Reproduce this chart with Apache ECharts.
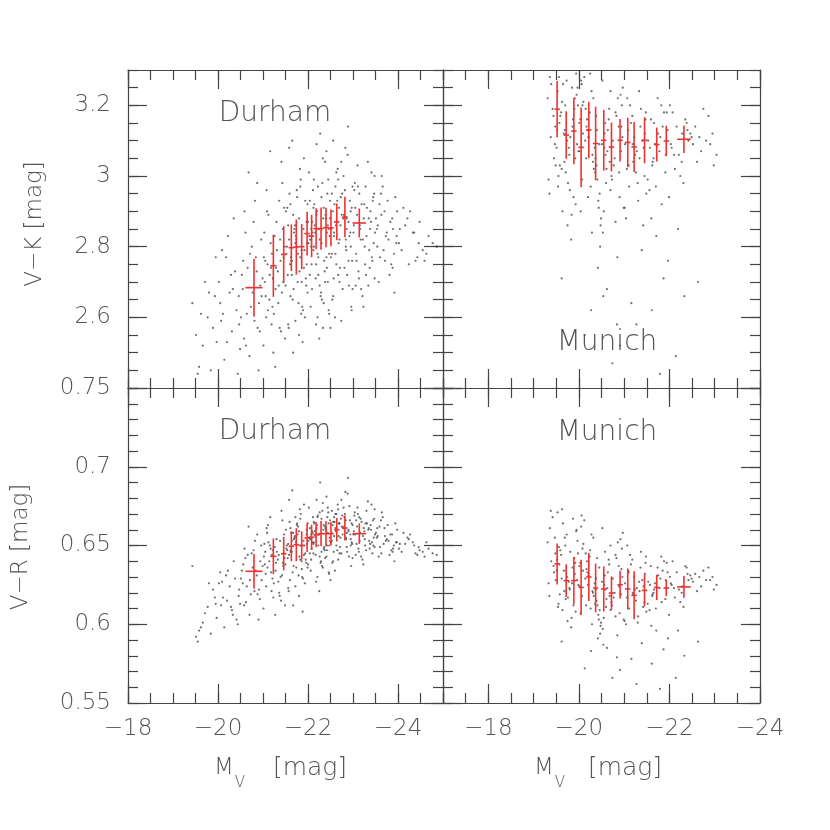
<!DOCTYPE html>
<html>
<head>
<meta charset="utf-8">
<script src="https://cdn.jsdelivr.net/npm/echarts@6/dist/echarts.min.js"></script>
<style>
  html, body { margin: 0; padding: 0; background: #fff; }
  #chart { width: 830px; height: 830px; }
</style>
</head>
<body>
<div id="chart"></div>
<script>
// galaxies: [M_V, V-K, V-R], read by eye off the point clouds
const durhamGalaxies = [
  [-19.43,2.64,0.637],[-19.58,2.46,0.596],[-19.51,2.55,0.592],[-19.77,2.60,0.611],[-19.66,2.52,0.601],
  [-19.84,2.45,0.594],[-19.93,2.66,0.617],[-19.71,2.70,0.607],[-19.89,2.57,0.622],[-19.62,2.61,0.598],
  [-19.97,2.53,0.604],[-19.80,2.67,0.626],[-19.55,2.44,0.589],[-19.95,2.77,0.613],
  [-20.07,2.59,0.612],[-20.38,2.73,0.629],[-20.14,2.48,0.598],[-20.46,2.66,0.618],[-20.22,2.83,0.634],
  [-20.31,2.56,0.609],[-20.02,2.70,0.626],[-20.41,2.62,0.603],[-20.18,2.77,0.631],[-20.49,2.51,0.613],
  [-20.26,2.67,0.624],[-20.11,2.61,0.617],[-20.35,2.88,0.640],[-20.44,2.44,0.600],[-20.05,2.64,0.633],
  [-20.29,2.72,0.611],[-20.47,2.58,0.622],[-20.20,2.53,0.615],[-20.33,2.68,0.606],[-20.09,2.79,0.627],
  [-20.53,2.72,0.634],[-20.88,2.57,0.619],[-20.61,2.84,0.642],[-20.97,2.66,0.628],[-20.70,2.49,0.606],
  [-20.56,2.76,0.638],[-20.82,2.93,0.653],[-20.64,2.61,0.624],[-20.99,2.71,0.637],[-20.75,2.80,0.645],
  [-20.58,2.54,0.612],[-20.91,2.64,0.622],[-20.68,3.01,0.662],[-20.86,2.73,0.631],[-20.51,2.60,0.629],
  [-20.79,2.87,0.647],[-20.94,2.69,0.640],[-20.62,2.52,0.614],[-20.84,2.77,0.634],[-20.73,2.63,0.619],
  [-20.96,2.82,0.650],[-20.55,2.68,0.626],[-20.90,2.45,0.603],[-20.66,2.74,0.644],[-20.81,2.59,0.621],
  [-20.59,2.90,0.648],[-20.77,2.67,0.636],[-20.93,2.56,0.616],[-20.71,2.78,0.628],[-20.87,2.98,0.657],
  [-21.04,2.70,0.638],[-21.37,2.57,0.618],[-21.12,2.89,0.652],[-21.46,2.77,0.645],[-21.21,2.63,0.629],
  [-21.08,2.96,0.661],[-21.33,2.73,0.641],[-21.49,2.54,0.612],[-21.17,2.81,0.648],[-21.28,2.68,0.634],
  [-21.02,2.77,0.643],[-21.41,3.04,0.672],[-21.24,2.61,0.626],[-21.15,2.72,0.650],[-21.44,2.85,0.639],
  [-21.06,2.66,0.632],[-21.31,2.79,0.646],[-21.19,2.58,0.621],[-21.47,2.91,0.657],[-21.10,2.75,0.636],
  [-21.35,2.69,0.644],[-21.26,2.83,0.649],[-21.01,2.52,0.610],[-21.39,2.76,0.630],[-21.14,2.65,0.640],
  [-21.43,2.98,0.666],[-21.22,2.71,0.647],[-21.30,2.87,0.654],[-21.07,2.60,0.624],[-21.48,2.80,0.642],
  [-21.18,2.74,0.633],[-21.36,2.93,0.620],[-21.11,2.62,0.663],[-21.27,2.46,0.606],[-21.45,2.70,0.637],
  [-21.03,2.84,0.651],[-21.34,2.64,0.627],[-21.20,2.78,0.644],[-21.40,2.56,0.615],[-21.09,2.90,0.658],
  [-21.29,2.74,0.639],[-21.42,2.67,0.631],[-21.16,3.07,0.668],[-21.38,2.82,0.653],[-21.23,2.50,0.617],
  [-21.05,2.76,0.646],
  [-21.52,2.78,0.648],[-21.87,2.63,0.630],[-21.61,2.92,0.661],[-21.95,2.71,0.641],[-21.70,2.85,0.655],
  [-21.56,2.58,0.623],[-21.83,2.97,0.667],[-21.64,2.76,0.646],[-21.99,2.67,0.636],[-21.73,2.83,0.652],
  [-21.58,3.08,0.679],[-21.91,2.74,0.644],[-21.67,2.89,0.658],[-21.80,2.55,0.618],[-21.53,2.80,0.650],
  [-21.96,2.69,0.639],[-21.76,2.94,0.664],[-21.62,2.77,0.647],[-21.89,2.62,0.629],[-21.71,2.86,0.656],
  [-21.55,2.72,0.642],[-21.84,2.99,0.670],[-21.98,2.81,0.651],[-21.66,2.65,0.633],[-21.78,2.78,0.662],
  [-21.51,2.90,0.660],[-21.93,2.60,0.626],[-21.69,2.84,0.654],[-21.81,2.73,0.643],[-21.59,2.95,0.665],
  [-21.86,2.70,0.640],[-21.74,2.82,0.636],[-21.57,2.57,0.621],[-21.97,2.87,0.657],[-21.63,2.76,0.658],
  [-21.82,3.02,0.673],[-21.68,2.68,0.637],[-21.92,2.79,0.650],[-21.54,2.91,0.647],[-21.79,2.64,0.631],
  [-21.65,3.10,0.685],[-21.88,2.53,0.608],[-21.72,2.81,0.668],[-21.60,2.75,0.628],[-21.94,2.93,0.645],
  [-21.77,2.70,0.657],[-21.85,2.61,0.650],[-21.50,2.69,0.638],[-21.90,2.85,0.653],[-21.75,2.96,0.663],
  [-21.58,2.82,0.644],[-21.83,2.77,0.641],[-21.67,2.50,0.612],[-21.97,2.75,0.660],[-21.61,2.66,0.646],
  [-21.80,2.88,0.659],[-21.72,2.59,0.624],[-21.91,3.05,0.676],[-21.56,2.86,0.651],[-21.86,2.79,0.635],
  [-21.64,2.72,0.653],[-21.99,2.92,0.664],
  [-22.03,2.83,0.655],[-22.38,2.70,0.642],[-22.11,2.96,0.668],[-22.47,2.78,0.650],[-22.19,2.89,0.661],
  [-22.06,2.63,0.634],[-22.33,3.05,0.677],[-22.24,2.85,0.657],[-22.42,2.74,0.647],[-22.14,2.92,0.664],
  [-22.01,2.81,0.653],[-22.29,2.67,0.640],[-22.45,2.99,0.671],[-22.09,2.87,0.659],[-22.36,2.76,0.649],
  [-22.21,2.60,0.630],[-22.49,2.93,0.666],[-22.16,2.84,0.656],[-22.27,3.12,0.690],[-22.04,2.72,0.645],
  [-22.40,2.88,0.660],[-22.13,2.80,0.652],[-22.31,2.65,0.637],[-22.22,2.97,0.669],[-22.44,2.86,0.658],
  [-22.08,2.75,0.648],[-22.35,2.91,0.663],[-22.18,2.58,0.627],[-22.48,2.83,0.655],[-22.02,3.01,0.674],
  [-22.26,2.69,0.643],[-22.39,2.89,0.661],[-22.12,2.79,0.651],[-22.30,2.94,0.667],[-22.46,2.62,0.633],
  [-22.07,2.85,0.657],[-22.23,2.77,0.650],[-22.41,3.07,0.681],[-22.17,2.71,0.644],[-22.34,2.88,0.660],
  [-22.05,2.82,0.654],[-22.28,2.66,0.639],[-22.43,2.95,0.668],[-22.10,2.84,0.658],[-22.37,2.73,0.647],
  [-22.20,2.90,0.663],[-22.47,2.61,0.632],[-22.15,2.86,0.659],[-22.32,2.98,0.672],[-22.25,2.54,0.621],
  [-22.00,2.87,0.638],[-22.44,2.70,0.674],[-22.12,2.91,0.645],[-22.38,3.04,0.662],[-22.21,2.78,0.668],
  [-22.09,2.68,0.652],[-22.30,2.81,0.646],[-22.46,2.85,0.664],[-22.18,2.75,0.660],[-22.35,2.64,0.648],
  [-22.04,2.93,0.661],[-22.26,2.82,0.671],[-22.41,2.77,0.643],[-22.13,2.99,0.665],[-22.49,2.88,0.653],
  [-22.23,2.72,0.657],[-22.07,2.80,0.641],[-22.33,2.57,0.636],[-22.19,3.09,0.679],[-22.42,2.84,0.650],
  [-22.52,2.85,0.658],[-22.87,2.72,0.646],[-22.61,2.97,0.670],[-22.95,2.80,0.654],[-22.69,2.91,0.664],
  [-22.56,2.66,0.640],[-22.83,3.08,0.684],[-22.64,2.87,0.660],[-22.98,2.76,0.651],[-22.73,2.94,0.667],
  [-22.58,2.83,0.656],[-22.91,2.69,0.643],[-22.66,3.02,0.676],[-22.80,2.89,0.662],[-22.53,2.78,0.653],
  [-22.96,2.63,0.637],[-22.76,2.95,0.669],[-22.62,2.86,0.659],[-22.89,3.14,0.693],[-22.71,2.74,0.649],
  [-22.55,2.90,0.663],[-22.84,2.82,0.655],[-22.99,2.68,0.642],[-22.67,2.99,0.673],[-22.78,2.88,0.661],
  [-22.51,2.77,0.652],[-22.93,2.93,0.666],[-22.60,2.60,0.634],[-22.86,2.85,0.658],[-22.74,3.04,0.679],
  [-22.57,2.71,0.646],[-22.97,2.91,0.664],[-22.68,2.81,0.656],[-22.82,2.96,0.670],[-22.54,2.65,0.639],
  [-22.90,2.87,0.660],[-22.63,2.75,0.650],[-22.79,3.00,0.674],[-22.94,2.84,0.657],[-22.70,2.70,0.645],
  [-22.59,2.92,0.665],[-22.85,2.79,0.654],[-22.75,2.89,0.662],[-22.50,2.57,0.628],[-22.92,2.83,0.675],
  [-22.65,2.93,0.647],[-22.81,2.74,0.668],[-22.97,2.62,0.652],[-22.56,3.10,0.665],[-22.88,3.06,0.683],
  [-22.72,2.86,0.655],[-22.61,2.78,0.661],[-22.95,2.90,0.650],[-22.77,2.68,0.657],[-22.53,2.95,0.672],
  [-22.84,2.80,0.666],[-22.67,2.72,0.641],[-22.99,2.97,0.663],[-22.58,2.84,0.668],[-22.90,2.76,0.659],
  [-22.74,2.59,0.645],[-22.63,3.01,0.670],[-22.86,2.88,0.649],[-22.70,2.82,0.664],
  [-23.02,2.86,0.659],[-23.37,2.74,0.648],[-23.11,2.97,0.670],[-23.46,2.81,0.655],[-23.19,2.92,0.665],
  [-23.06,2.69,0.644],[-23.33,3.04,0.678],[-23.24,2.88,0.661],[-23.42,2.77,0.652],[-23.14,2.95,0.668],
  [-23.01,2.84,0.657],[-23.29,2.72,0.647],[-23.48,3.00,0.673],[-23.09,2.89,0.662],[-23.36,2.79,0.653],
  [-23.21,2.66,0.641],[-23.44,2.93,0.666],[-23.16,2.85,0.658],[-23.27,2.75,0.650],[-23.04,2.98,0.671],
  [-23.40,2.87,0.660],[-23.13,2.71,0.646],[-23.31,2.91,0.664],[-23.22,2.82,0.656],[-23.47,2.95,0.667],
  [-23.08,2.76,0.651],[-23.35,2.88,0.661],[-23.18,2.68,0.643],[-23.49,2.84,0.657],[-23.03,2.96,0.669],
  [-23.26,2.80,0.654],[-23.39,2.90,0.663],[-23.12,2.73,0.648],[-23.30,2.83,0.672],[-23.45,2.94,0.650],
  [-23.07,2.78,0.666],[-23.23,2.63,0.638],[-23.41,3.01,0.676],[-23.15,2.86,0.653],[-23.34,2.69,0.660],
  [-23.05,2.91,0.657],[-23.28,2.97,0.664],[-23.43,2.76,0.645],[-23.17,2.82,0.667],[-23.38,2.85,0.651],
  [-23.10,3.03,0.674],[-23.25,2.92,0.659],[-23.48,2.71,0.649],
  [-23.53,2.85,0.655],[-23.88,2.74,0.646],[-23.62,2.95,0.666],[-23.96,2.81,0.652],[-23.70,2.90,0.661],
  [-23.57,2.70,0.643],[-23.83,2.87,0.657],[-23.66,2.97,0.668],[-23.91,2.78,0.650],[-23.75,2.84,0.654],
  [-23.59,2.92,0.662],[-23.85,2.75,0.647],[-23.51,2.88,0.658],[-23.79,2.82,0.653],[-23.94,2.94,0.664],
  [-23.68,2.79,0.651],[-23.55,2.86,0.656],[-23.81,2.72,0.644],[-23.98,2.90,0.660],[-23.73,2.83,0.653],
  [-23.60,2.77,0.649],[-23.87,2.88,0.657],[-23.64,3.00,0.671],[-23.92,2.67,0.640],[-23.77,2.93,0.663],
  [-23.54,2.80,0.661],[-23.89,2.85,0.648],[-23.71,2.76,0.656],[-23.97,2.83,0.652],[-23.63,2.89,0.645],
  [-24.04,2.85,0.651],[-24.39,2.76,0.645],[-24.12,2.91,0.658],[-24.46,2.81,0.649],[-24.21,2.88,0.655],
  [-24.08,2.79,0.646],[-24.33,2.84,0.652],[-24.27,2.90,0.657],[-24.43,2.77,0.644],[-24.16,2.86,0.651],
  [-24.02,2.81,0.648],[-24.36,2.84,0.650],[-24.24,2.75,0.654],[-24.48,2.87,0.647],
  [-24.55,2.79,0.646],[-24.68,2.83,0.648],[-24.59,2.76,0.643],[-24.77,2.81,0.645],[-24.63,2.78,0.652],
  [-24.86,2.80,0.644]
];

const munichGalaxies = [
  [-19.31,3.22,0.652],[-19.45,3.05,0.633],[-19.36,3.28,0.661],[-19.48,3.14,0.645],[-19.33,2.99,0.626],
  [-19.42,3.19,0.668],[-19.39,3.26,0.640],[-19.47,3.09,0.655],[-19.35,2.95,0.618],[-19.44,3.17,0.637],
  [-19.38,3.11,0.672],[-19.49,3.03,0.628],
  [-19.53,3.24,0.671],[-19.81,3.11,0.646],[-19.62,3.02,0.629],[-19.94,3.29,0.659],[-19.57,3.15,0.638],
  [-19.88,2.94,0.612],[-19.70,3.20,0.650],[-19.99,3.07,0.625],[-19.65,3.26,0.664],[-19.76,2.98,0.617],
  [-19.52,3.13,0.641],[-19.91,3.22,0.632],[-19.68,3.04,0.621],[-19.84,2.89,0.604],[-19.59,3.17,0.647],
  [-19.96,3.09,0.628],[-19.73,3.27,0.657],[-19.55,3.00,0.613],[-19.86,3.14,0.636],[-19.63,3.21,0.673],
  [-19.79,3.06,0.623],[-19.93,2.92,0.608],[-19.61,3.18,0.644],[-19.74,3.10,0.630],[-19.97,3.25,0.653],
  [-19.58,3.03,0.619],[-19.83,2.82,0.598],[-19.67,3.12,0.634],[-19.90,3.19,0.642],[-19.54,2.97,0.611],
  [-19.78,3.08,0.627],[-19.95,3.23,0.660],[-19.71,3.01,0.616],[-19.62,2.71,0.589],[-19.87,3.16,0.667],
  [-19.56,3.28,0.649],[-19.80,2.96,0.622],[-19.69,3.13,0.655],[-19.92,3.05,0.639],[-19.64,2.90,0.609],
  [-19.98,3.20,0.645],[-19.75,2.86,0.602],[-19.51,3.08,0.634],[-19.85,3.25,0.626],
  [-20.03,3.16,0.639],[-20.37,3.05,0.622],[-20.12,3.28,0.666],[-20.46,2.95,0.609],[-20.21,3.11,0.631],
  [-20.08,3.20,0.648],[-20.33,3.02,0.618],[-20.49,2.88,0.601],[-20.17,3.14,0.635],[-20.28,3.24,0.657],
  [-20.02,3.07,0.624],[-20.41,2.99,0.612],[-20.24,3.18,0.643],[-20.14,3.10,0.629],[-20.44,2.91,0.603],
  [-20.06,3.26,0.669],[-20.31,3.04,0.620],[-20.19,3.13,0.633],[-20.47,2.80,0.594],[-20.10,3.21,0.651],
  [-20.35,3.08,0.626],[-20.26,2.97,0.610],[-20.01,3.15,0.637],[-20.39,3.03,0.615],[-20.15,3.19,0.645],
  [-20.43,2.93,0.606],[-20.22,3.11,0.630],[-20.05,3.27,0.662],[-20.30,3.06,0.621],[-20.48,2.86,0.599],
  [-20.18,3.16,0.640],[-20.36,3.01,0.613],[-20.09,3.12,0.634],[-20.27,2.62,0.583],[-20.42,2.74,0.591],
  [-20.13,2.55,0.572],[-20.32,3.22,0.655],[-20.20,2.94,0.625],[-20.45,3.09,0.636],[-20.07,2.99,0.618],
  [-20.38,3.17,0.629],[-20.25,3.29,0.647],[-20.04,2.90,0.607],[-20.40,3.13,0.642],[-20.16,3.05,0.612],
  [-20.29,2.84,0.600],
  [-20.51,3.09,0.627],[-20.86,3.22,0.652],[-20.60,2.98,0.611],[-20.94,3.14,0.635],[-20.68,3.04,0.618],
  [-20.55,2.90,0.604],[-20.81,3.18,0.644],[-20.63,3.07,0.623],[-20.97,3.25,0.658],[-20.72,3.00,0.614],
  [-20.57,3.12,0.631],[-20.90,2.94,0.607],[-20.66,3.16,0.641],[-20.79,3.05,0.620],[-20.53,2.84,0.597],
  [-20.95,3.20,0.648],[-20.75,3.10,0.629],[-20.61,3.02,0.616],[-20.88,3.14,0.637],[-20.70,2.96,0.609],
  [-20.56,3.08,0.625],[-20.92,3.23,0.654],[-20.77,3.03,0.617],[-20.64,3.13,0.633],[-20.99,2.91,0.603],
  [-20.83,3.17,0.642],[-20.59,3.06,0.622],[-20.73,2.99,0.612],[-20.96,3.11,0.630],[-20.62,2.68,0.585],
  [-20.85,2.77,0.593],[-20.74,2.47,0.566],[-20.52,3.27,0.661],[-20.89,3.01,0.624],[-20.67,3.19,0.638],
  [-20.81,2.87,0.605],[-20.58,3.15,0.646],[-20.93,3.07,0.619],[-20.70,3.24,0.650],[-20.84,2.58,0.579],
  [-20.91,2.52,0.571],[-20.54,2.66,0.587],
  [-21.02,3.09,0.626],[-21.37,3.19,0.646],[-21.11,2.97,0.610],[-21.46,3.12,0.632],[-21.20,3.04,0.619],
  [-21.07,3.22,0.650],[-21.31,2.93,0.605],[-21.43,3.08,0.624],[-21.15,3.15,0.638],[-21.26,3.01,0.615],
  [-21.04,2.88,0.600],[-21.40,3.10,0.628],[-21.18,3.17,0.641],[-21.34,3.05,0.621],[-21.49,2.95,0.608],
  [-21.09,3.13,0.634],[-21.28,3.07,0.623],[-21.13,3.20,0.644],[-21.45,3.00,0.614],[-21.22,3.11,0.630],
  [-21.01,2.91,0.602],[-21.36,3.14,0.636],[-21.24,3.06,0.622],[-21.47,3.16,0.639],[-21.06,3.02,0.617],
  [-21.16,2.64,0.578],[-21.39,2.79,0.588],[-21.27,2.58,0.562],[-21.33,3.24,0.627],[-21.10,3.03,0.633],
  [-21.42,2.86,0.611],[-21.19,3.09,0.620],[-21.30,2.98,0.601],[-21.48,3.18,0.643],
  [-21.53,3.10,0.627],[-21.88,3.18,0.640],[-21.62,3.03,0.618],[-21.96,3.13,0.633],[-21.70,2.97,0.610],
  [-21.57,3.08,0.625],[-21.82,3.20,0.643],[-21.65,3.05,0.620],[-21.99,2.94,0.606],[-21.75,3.12,0.631],
  [-21.59,3.16,0.637],[-21.91,3.01,0.616],[-21.68,3.09,0.626],[-21.85,3.14,0.634],[-21.52,2.99,0.613],
  [-21.78,3.07,0.623],[-21.94,3.18,0.639],[-21.63,3.04,0.619],[-21.80,3.11,0.629],[-21.56,2.96,0.609],
  [-21.71,2.83,0.596],[-21.87,2.71,0.584],[-21.60,2.88,0.599],[-21.97,2.76,0.591],[-21.74,3.22,0.636],
  [-21.92,3.06,0.628],[-21.66,3.15,0.622],[-21.83,2.92,0.614],[-21.61,2.62,0.575],[-21.79,2.44,0.559],
  [-22.03,3.09,0.626],[-22.38,3.15,0.636],[-22.12,3.02,0.617],[-22.46,3.12,0.631],[-22.21,3.06,0.622],
  [-22.07,3.18,0.640],[-22.31,2.98,0.611],[-22.42,3.10,0.628],[-22.16,3.14,0.633],[-22.27,3.04,0.620],
  [-22.05,3.08,0.625],[-22.35,3.16,0.637],[-22.24,3.00,0.614],[-22.49,3.11,0.629],[-22.10,3.06,0.623],
  [-22.40,3.13,0.632],[-22.19,2.85,0.596],[-22.33,2.66,0.580],[-22.01,3.20,0.630],[-22.28,3.12,0.624],
  [-22.14,2.49,0.566],
  [-22.52,3.09,0.627],[-22.86,3.17,0.636],[-22.61,3.04,0.621],[-22.95,3.12,0.630],[-22.70,3.07,0.624],
  [-22.57,3.14,0.632],[-22.81,3.10,0.628],[-23.04,3.06,0.625],[-22.66,3.11,0.630],[-22.90,3.09,0.628],
  [-22.75,3.19,0.634],[-22.98,3.03,0.622],[-22.63,2.70,0.589]
];

// binned means with error bars
const durhamBinMv    = [-20.80,-21.23,-21.46,-21.63,-21.74,-21.86,-21.98,-22.08,-22.18,-22.29,-22.40,-22.51,-22.64,-22.82,-23.14];
const durhamBinMvErr = [0.19,0.07,0.06,0.06,0.06,0.06,0.06,0.06,0.06,0.06,0.06,0.06,0.06,0.06,0.15];
const durhamBinVK    = [2.684,2.746,2.778,2.797,2.799,2.800,2.837,2.830,2.851,2.851,2.854,2.853,2.870,2.884,2.867];
const durhamBinVKErr = [0.082,0.088,0.080,0.066,0.078,0.064,0.062,0.060,0.058,0.060,0.056,0.052,0.052,0.057,0.041];
const durhamBinVR    = [0.6336,0.6431,0.6448,0.6495,0.6505,0.650,0.6548,0.6552,0.6569,0.6575,0.6575,0.6575,0.660,0.6611,0.6575];
const durhamBinVRErr = [0.011,0.0113,0.0106,0.0095,0.0105,0.009,0.009,0.008,0.008,0.008,0.008,0.0075,0.0075,0.008,0.0065];

const munichBinMv    = [-19.52,-19.72,-19.89,-20.05,-20.22,-20.37,-20.55,-20.72,-20.91,-21.08,-21.22,-21.45,-21.72,-21.93,-22.32];
const munichBinMvErr = [0.06,0.06,0.06,0.06,0.06,0.06,0.06,0.06,0.06,0.06,0.06,0.06,0.06,0.06,0.15];
const munichBinVK    = [3.189,3.116,3.127,3.081,3.130,3.092,3.101,3.082,3.101,3.095,3.082,3.101,3.089,3.099,3.104];
const munichBinVKErr = [0.080,0.067,0.094,0.113,0.080,0.104,0.086,0.069,0.060,0.070,0.071,0.065,0.048,0.043,0.039];
const munichBinVR    = [0.6383,0.6277,0.6277,0.6234,0.630,0.623,0.6224,0.6198,0.6251,0.6224,0.6184,0.6215,0.6234,0.623,0.6237];
const munichBinVRErr = [0.013,0.0104,0.015,0.0175,0.0153,0.0155,0.0143,0.0106,0.0088,0.013,0.0153,0.010,0.008,0.0052,0.0069];

// tick labels
const mvTicks = [-18, -20, -22, -24];
const vkTicks = [2.4, 2.6, 2.8, 3.0, 3.2];
const vrTicks = [0.55, 0.6, 0.65, 0.7, 0.75];

const chart = echarts.init(document.getElementById('chart'));

const lineColor = '#444';
const textColor = '#555';
const fontFamily = 'DejaVu Sans ExtraLight, DejaVu Sans';

const grids = [
  { left: 128, top: 70, width: 315, height: 318 },
  { left: 443, top: 70, width: 317, height: 318 },
  { left: 128, top: 388, width: 315, height: 315 },
  { left: 443, top: 388, width: 317, height: 315 }
];

// 4 x axes per grid: bottom major, bottom minor, top major, top minor
const makeXAxes = (g, min, max, labels) => {
  let base = { gridIndex: g, type: 'value', min: min, max: max, inverse: true, splitLine: { show: false } };
  let tick = { color: lineColor, width: 1.2 };
  return [
    Object.assign({}, base, {
      position: 'bottom',
      axisLine: { show: true, onZero: false, lineStyle: { color: lineColor, width: 1.2 } },
      axisTick: { show: true, inside: true, length: 19, customValues: mvTicks, lineStyle: tick },
      axisLabel: {
        show: labels, customValues: mvTicks, margin: 15,
        formatter: (v) => '\u2212' + Math.abs(v),
        fontSize: 23, color: textColor, fontFamily: fontFamily, fontWeight: 200
      }
    }),
    Object.assign({}, base, {
      position: 'bottom', interval: 0.5,
      axisLine: { show: false },
      axisTick: { show: true, inside: true, length: 10, lineStyle: tick },
      axisLabel: { show: false }
    }),
    Object.assign({}, base, {
      position: 'top',
      axisLine: { show: true, onZero: false, lineStyle: { color: lineColor, width: 1.2 } },
      axisTick: { show: true, inside: true, length: 19, customValues: mvTicks, lineStyle: tick },
      axisLabel: { show: false }
    }),
    Object.assign({}, base, {
      position: 'top', interval: 0.5,
      axisLine: { show: false },
      axisTick: { show: true, inside: true, length: 10, lineStyle: tick },
      axisLabel: { show: false }
    })
  ];
}

// 4 y axes per grid: left major, left minor, right major, right minor
const makeYAxes = (g, ticks, minorStep, labelValues) => {
  let min = ticks[0];
  let max = g < 2 ? 3.3 : 0.75;
  let base = { gridIndex: g, type: 'value', min: min, max: max, splitLine: { show: false } };
  let tick = { color: lineColor, width: 1.2 };
  return [
    Object.assign({}, base, {
      position: 'left',
      axisLine: { show: true, onZero: false, lineStyle: { color: lineColor, width: 1.2 } },
      axisTick: { show: true, inside: true, length: 19, customValues: ticks, lineStyle: tick },
      axisLabel: {
        show: labelValues.length > 0, customValues: labelValues, margin: 17,
        formatter: (v) => String(+v.toFixed(2)),
        fontSize: 23, color: textColor, fontFamily: fontFamily, fontWeight: 200
      }
    }),
    Object.assign({}, base, {
      position: 'left', interval: minorStep,
      axisLine: { show: false },
      axisTick: { show: true, inside: true, length: 10, lineStyle: tick },
      axisLabel: { show: false }
    }),
    Object.assign({}, base, {
      position: 'right',
      axisLine: { show: true, onZero: false, lineStyle: { color: lineColor, width: 1.2 } },
      axisTick: { show: true, inside: true, length: 19, customValues: ticks, lineStyle: tick },
      axisLabel: { show: false }
    }),
    Object.assign({}, base, {
      position: 'right', interval: minorStep,
      axisLine: { show: false },
      axisTick: { show: true, inside: true, length: 10, lineStyle: tick },
      axisLabel: { show: false }
    })
  ];
}

let xAxis = [].concat(
  makeXAxes(0, -25, -18, false),
  makeXAxes(1, -24, -17, false),
  makeXAxes(2, -25, -18, true),
  makeXAxes(3, -24, -17, true)
);
let yAxis = [].concat(
  makeYAxes(0, vkTicks, 0.05, vkTicks.slice(1)),
  makeYAxes(1, vkTicks, 0.05, []),
  makeYAxes(2, vrTicks, 0.01, vrTicks),
  makeYAxes(3, vrTicks, 0.01, [])
);

const cloudSeries = (g, galaxies, col) => {
  return {
    type: 'scatter',
    xAxisIndex: 4 * g, yAxisIndex: 4 * g,
    data: galaxies.map((p) => [p[0], p[col]]),
    symbol: 'circle', symbolSize: 2.2,
    itemStyle: { color: 'rgba(15,15,15,0.75)' },
    silent: true, z: 2
  };
}

const errorSeries = (g, mv, mvErr, y, yErr) => {
  return {
    type: 'custom',
    xAxisIndex: 4 * g, yAxisIndex: 4 * g,
    data: mv.map((m, i) => [m, y[i], mvErr[i], yErr[i]]),
    encode: { x: 0, y: 1 },
    silent: true, z: 5,
    renderItem: (params, api) => {
      let x = api.value(0), v = api.value(1), ex = api.value(2), ey = api.value(3);
      let a = api.coord([x - ex, v]), b = api.coord([x + ex, v]);
      let c = api.coord([x, v - ey]), d = api.coord([x, v + ey]);
      let style = { stroke: '#f23030', lineWidth: 1.6 };
      return {
        type: 'group',
        children: [
          { type: 'line', shape: { x1: a[0], y1: a[1], x2: b[0], y2: b[1] }, style: style },
          { type: 'line', shape: { x1: c[0], y1: c[1], x2: d[0], y2: d[1] }, style: style }
        ]
      };
    }
  };
}

let series = [
  cloudSeries(0, durhamGalaxies, 1),
  cloudSeries(1, munichGalaxies, 1),
  cloudSeries(2, durhamGalaxies, 2),
  cloudSeries(3, munichGalaxies, 2),
  errorSeries(0, durhamBinMv, durhamBinMvErr, durhamBinVK, durhamBinVKErr),
  errorSeries(1, munichBinMv, munichBinMvErr, munichBinVK, munichBinVKErr),
  errorSeries(2, durhamBinMv, durhamBinMvErr, durhamBinVR, durhamBinVRErr),
  errorSeries(3, munichBinMv, munichBinMvErr, munichBinVR, munichBinVRErr)
];

const label = (text, x, y, size, extra) => {
  return Object.assign({
    type: 'text', x: x, y: y, silent: true, z: 10,
    style: {
      text: text, fill: textColor, fontSize: size, fontFamily: fontFamily, fontWeight: 200,
      align: 'center', verticalAlign: 'middle'
    }
  }, extra || {});
}

let graphic = [
  label('Durham', 275, 114, 28),
  label('Munich', 607, 343, 28),
  label('Durham', 275, 432, 28),
  label('Munich', 607, 433, 28),
  label('V\u2212K [mag]', 35, 224, 23, { rotation: Math.PI / 2 }),
  label('V\u2212R [mag]', 21, 547, 23, { rotation: Math.PI / 2 }),
  // M_V [mag] under each bottom panel
  label('M', 224, 768, 23),
  label('V', 240, 783, 15),
  label('[mag]', 310, 768, 25),
  label('M', 544, 768, 23),
  label('V', 560, 783, 15),
  label('[mag]', 625, 768, 25)
];

let option = {
  animation: false,
  backgroundColor: '#fff',
  grid: grids,
  xAxis: xAxis,
  yAxis: yAxis,
  series: series,
  graphic: graphic
};

chart.setOption(option);
</script>
</body>
</html>
